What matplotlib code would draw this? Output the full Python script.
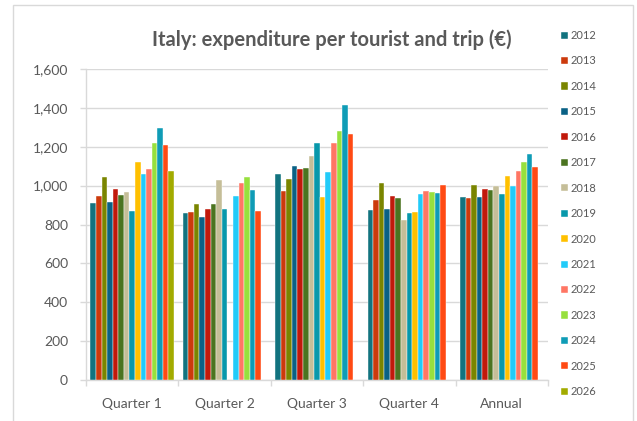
import numpy as np
import matplotlib
matplotlib.use("Agg")
from matplotlib import pyplot as plt
from matplotlib.patches import Rectangle

plt.rcParams['font.family'] = ['Lato', 'DejaVu Sans']

categories = ['Quarter 1', 'Quarter 2', 'Quarter 3', 'Quarter 4', 'Annual']
years = [str(y) for y in range(2012, 2027)]
nan = np.nan

# one list per year: Q1, Q2, Q3, Q4, Annual
values = {
    '2012': [911, 860, 1060, 875, 943],
    '2013': [946, 863, 974, 926, 937],
    '2014': [1042, 906, 1035, 1013, 1005],
    '2015': [914, 837, 1099, 880, 942],
    '2016': [985, 880, 1083, 948, 984],
    '2017': [951, 906, 1093, 938, 978],
    '2018': [967, 1031, 1151, 824, 996],
    '2019': [868, 880, 1220, 860, 959],
    '2020': [1123, nan, 943, 866, 1049],
    '2021': [1060, 948, 1069, 955, 1000],
    '2022': [1086, 1013, 1220, 974, 1075],
    '2023': [1217, 1044, 1280, 969, 1123],
    '2024': [1295, 978, 1414, 962, 1164],
    '2025': [1208, 870, 1265, 1005, 1095],
    '2026': [1077, nan, nan, nan, nan],
}

colors = ['#12737F', '#CC3A0C', '#7A8500', '#0A6185', '#C1190B',
          '#4B7420', '#C5BE98', '#0898AB', '#FFC000', '#22CBF9',
          '#FF7664', '#97E03D', '#0F9CB6', '#FF4A14', '#A2AB00']

W, H = 637, 421
fig = plt.figure(figsize=(W / 100, H / 100), dpi=100)
ax = fig.add_axes([86 / W, (H - 380) / H, (548 - 86) / W, (380 - 69) / H])

grid_c = '#D9D9D9'
text_c = '#595959'

x = np.arange(len(categories))
n = len(years)
bw = 0.906 / n
handles = []
for j, yr in enumerate(years):
    b = ax.bar(x + (j - (n - 1) / 2) * bw, values[yr], width=bw,
               color=colors[j], edgecolor='white', linewidth=0.3,
               label=yr, zorder=3)
    handles.append(b)

ax.set_xlim(-0.5, len(categories) - 0.5)
ax.set_ylim(0, 1600)
ax.set_yticks(range(0, 1601, 200))
ax.set_yticklabels([f'{v:,}' for v in range(0, 1601, 200)])
ax.yaxis.grid(True, color=grid_c, linewidth=1, zorder=0)

ax.set_xticks(x)
ax.set_xticklabels(categories)
ax.set_xticks(np.arange(-0.5, len(categories)), minor=True)
ax.tick_params(axis='x', which='major', length=0, pad=13, labelsize=10,
               labelcolor=text_c)
ax.tick_params(axis='x', which='minor', length=4, color=grid_c, width=1)
ax.tick_params(axis='y', length=4, color=grid_c, width=1, pad=9,
               labelsize=10, labelcolor=text_c)

for s in ['top', 'right']:
    ax.spines[s].set_visible(False)
for s in ['left', 'bottom']:
    ax.spines[s].set_color(grid_c)
    ax.spines[s].set_linewidth(1)

fig.text(332 / W, (H - 40) / H, 'Italy: expenditure per tourist and trip (€)',
         ha='center', va='center', fontsize=14.5, fontweight='bold', color=text_c)

fig.legend(handles=handles, labels=years, loc='upper left',
           bbox_to_anchor=(561 / W, (H - 30) / H), frameon=False,
           fontsize=8, labelcolor=text_c, handlelength=0.6, handleheight=0.6,
           handletextpad=0.3, labelspacing=1.3, borderpad=0, borderaxespad=0)

fig.patches.append(Rectangle((13 / W, -0.05), (633 - 13) / W, (H - 5) / H + 0.05,
                             transform=fig.transFigure, fill=False,
                             edgecolor=grid_c, linewidth=1))

fig.savefig('out.png', dpi=100)
